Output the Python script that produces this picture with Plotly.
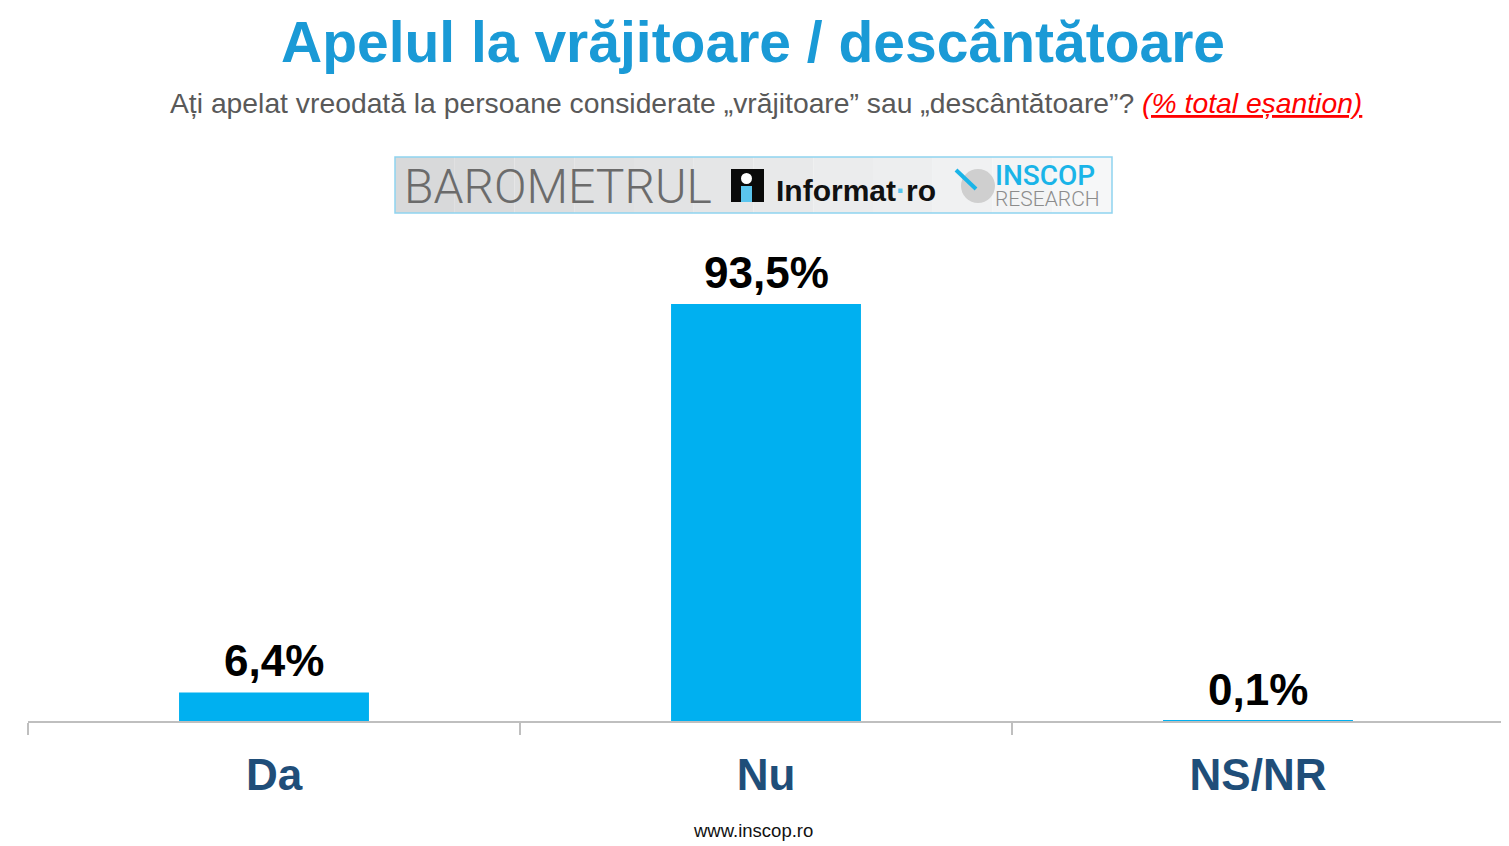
import plotly.graph_objects as go

categories = ["Da", "Nu", "NS/NR"]
values = [6.4, 93.5, 0.1]
value_labels = ["6,4%", "93,5%", "0,1%"]

title_text = "Apelul la vrăjitoare / descântătoare"
subtitle_text = "Ați apelat vreodată la persoane considerate „vrăjitoare” sau „descântătoare”? "
subtitle_note = "(% total eșantion)"
footer_text = "www.inscop.ro"

OFF = 8  # page body margin compensation
W, H = 1509 - OFF, 846 - OFF
L, R, T, B = 28 - OFF, 5, 275 - OFF, 125
PW = W - L - R
PH = H - T - B


def px(x):
    return (x - OFF - L) / PW


def py(y):
    return (H - B - (y - OFF)) / PH


fig = go.Figure()
fig.add_trace(go.Bar(
    x=categories, y=values,
    marker=dict(color="#00B0F0", line=dict(width=0)),
    width=0.386,
    hoverinfo="skip",
))

annotations = []
for c, v, t in zip(categories, values, value_labels):
    annotations.append(dict(
        x=c, y=v, xref="x", yref="y", text="<b>" + t + "</b>",
        showarrow=False, yanchor="bottom", yshift=5,
        font=dict(family="Liberation Sans, Arial", size=44, color="#000000"),
    ))

annotations.append(dict(
    x=px(753), y=py(42), xref="paper", yref="paper", text="<b>" + title_text + "</b>",
    showarrow=False, xanchor="center", yanchor="middle",
    font=dict(family="Liberation Sans, Arial", size=57, color="#1A9AD6"),
))
annotations.append(dict(
    x=px(766), y=py(103), xref="paper", yref="paper",
    text=subtitle_text + "<span style='color:#FF0000'><i><u>" + subtitle_note + "</u></i></span>",
    showarrow=False, xanchor="center", yanchor="middle",
    font=dict(family="Liberation Sans, Arial", size=28.3, color="#595959"),
))
annotations.append(dict(
    x=px(753), y=py(830), xref="paper", yref="paper", text=footer_text,
    showarrow=False, xanchor="center", yanchor="middle",
    font=dict(family="Liberation Sans, Arial", size=18.5, color="#111111"),
))

annotations.append(dict(
    x=px(402), y=py(186), xref="paper", yref="paper", text="BAROMETRUL",
    showarrow=False, xanchor="left", yanchor="middle",
    font=dict(family="Roboto", size=48, color="#6B6B6B", weight=300),
))
annotations.append(dict(
    x=px(774), y=py(190), xref="paper", yref="paper",
    text="<b>Informat<span style='color:#55C3EE'>·</span>ro</b>",
    showarrow=False, xanchor="left", yanchor="middle",
    font=dict(family="Liberation Sans, Arial", size=30, color="#111111"),
))
annotations.append(dict(
    x=px(993), y=py(175), xref="paper", yref="paper", text="INSCOP",
    showarrow=False, xanchor="left", yanchor="middle",
    font=dict(family="Roboto", size=28, color="#1AB4E8", weight=500),
))
annotations.append(dict(
    x=px(993), y=py(199), xref="paper", yref="paper", text="RESEARCH",
    showarrow=False, xanchor="left", yanchor="middle",
    font=dict(family="Roboto", size=21, color="#8C8C8C", weight=300),
))

shapes = []
x0, x1 = 395, 1112
n = 12
for i in range(n):
    a = x0 + (x1 - x0) * i / n
    b = x0 + (x1 - x0) * (i + 1) / n
    g = int(216 + (246 - 216) * i / (n - 1))
    shapes.append(dict(type="rect", xref="paper", yref="paper",
                       x0=px(a), x1=px(b), y0=py(213), y1=py(157),
                       fillcolor=f"rgb({g},{g+1},{g+2})", line=dict(width=0), layer="below"))
shapes.append(dict(type="rect", xref="paper", yref="paper",
                   x0=px(x0), x1=px(x1), y0=py(213), y1=py(157),
                   fillcolor="rgba(0,0,0,0)", line=dict(color="#8FD3F0", width=1.5)))
shapes.append(dict(type="rect", xref="paper", yref="paper",
                   x0=px(731), x1=px(764), y0=py(202), y1=py(169),
                   fillcolor="#0A0A0A", line=dict(width=0)))
shapes.append(dict(type="circle", xref="paper", yref="paper",
                   x0=px(741), x1=px(752), y0=py(184), y1=py(173),
                   fillcolor="#FFFFFF", line=dict(width=0)))
shapes.append(dict(type="rect", xref="paper", yref="paper",
                   x0=px(741), x1=px(752), y0=py(202), y1=py(186),
                   fillcolor="#5BC5EE", line=dict(width=0)))
shapes.append(dict(type="circle", xref="paper", yref="paper",
                   x0=px(961), x1=px(995), y0=py(203), y1=py(169),
                   fillcolor="#CFCFCF", line=dict(width=0)))
shapes.append(dict(type="line", xref="paper", yref="paper",
                   x0=px(956), x1=px(976), y0=py(170), y1=py(189),
                   line=dict(color="#1AB4E8", width=4)))

fig.update_layout(
    width=W, height=H,
    margin=dict(l=L, r=R, t=T, b=B),
    paper_bgcolor="#FFFFFF", plot_bgcolor="#FFFFFF",
    showlegend=False,
    bargap=0.614,
    xaxis=dict(
        showline=True, linecolor="#BFBFBF", linewidth=1.5,
        ticks="outside", tickson="boundaries", ticklen=12, tickcolor="#BFBFBF", tickwidth=1.5,
        ticklabelstandoff=14,
        tickfont=dict(family="Liberation Sans, Arial", size=44, color="#1F4E79", weight="bold"),
        showgrid=False, zeroline=False, fixedrange=True,
    ),
    yaxis=dict(range=[0, 100], visible=False, fixedrange=True),
    annotations=annotations,
    shapes=shapes,
)

fig.write_html("out.html")
